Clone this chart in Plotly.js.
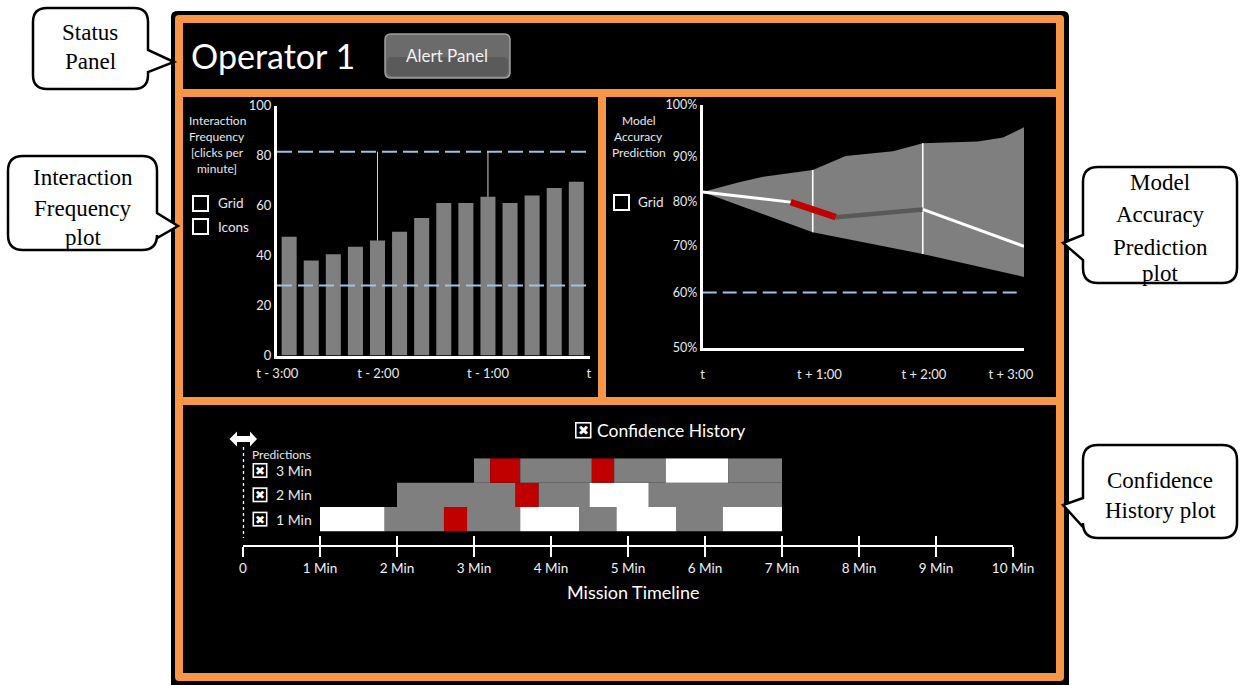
<!DOCTYPE html>
<html><head><meta charset="utf-8">
<script src="https://cdn.plot.ly/plotly-3.0.1.min.js"></script>
<style>html,body{margin:0;padding:0;background:#fff;}#chart{width:1241px;height:685px;}</style>
</head><body><div id="chart"></div>
<script>
// ================= DATA =================
// Interaction Frequency plot (clicks per minute, one bar per interval)
const freqBarIndex = [1,2,3,4,5,6,7,8,9,10,11,12,13,14];
const freqValues   = [47.5, 38, 40.5, 43.5, 46, 49.5, 55, 61, 61, 63.5, 61, 64, 67, 69.5];
const freqUpperThreshold = 81.5;
const freqLowerThreshold = 28;
const freqAlertBars = [5, 10];
const freqTickPos  = [0.46, 5.03, 10.0, 14.57];
const freqTickText = ['t - 3:00', 't - 2:00', 't - 1:00', 't'];
const freqYTicks   = [0, 20, 40, 60, 80, 100];

// Model Accuracy Prediction plot (minutes ahead, accuracy axis units)
const accUpperX = [0, 0.33, 0.55, 1.0, 1.30, 1.73, 2.0, 2.50, 2.73, 2.92];
const accUpperY = [82.1, 84.1, 85.2, 86.6, 89.5, 90.5, 92.1, 92.5, 93.3, 95.4];
const accLowerX = [0, 1.0, 2.0, 2.92];
const accLowerY = [82.1, 73.8, 69.3, 64.6];
const accPredX  = [0, 0.80, 1.21, 2.0, 2.92];
const accPredY  = [82.1, 80.0, 76.9, 78.5, 70.9];
const accPredSegColors = ['#ffffff', '#c00000', '#595959', '#ffffff'];
const accPredSegWidths = [3, 6.5, 4.5, 3];
const accMarkX = [1.0, 2.0];
const accThreshold = 61.4;
const accThresholdEnd = 2.9;
const accYTickVals = [50, 61.4, 71.1, 80.2, 89.3, 100];
const accYTickText = ['50%', '60%', '70%', '80%', '90%', '100%'];
const accXTickVals = [0, 1.06, 2.01, 2.8];
const accXTickText = ['t', 't + 1:00', 't + 2:00', 't + 3:00'];

// Confidence History plot (mission minutes)
const confRowY = [1, 2, 3];
const confRowLabels = ['1 Min', '2 Min', '3 Min'];
const confRow1Bounds = [1.0, 1.84, 2.61, 2.91, 3.60, 4.37, 4.85, 5.63, 6.23, 7.0];
const confRow1States = ['high','mid','low','mid','high','mid','high','mid','high'];
const confRow2Bounds = [2.0, 3.54, 3.84, 4.50, 5.27, 7.0];
const confRow2States = ['mid','low','mid','high','mid'];
const confRow3Bounds = [3.0, 3.21, 3.60, 4.53, 4.82, 5.49, 6.30, 7.0];
const confRow3States = ['mid','low','mid','low','mid','high','mid'];
const confTickVals = [0,1,2,3,4,5,6,7,8,9,10];
const confTickText = ['0','1 Min','2 Min','3 Min','4 Min','5 Min','6 Min','7 Min','8 Min','9 Min','10 Min'];

// ================= STYLE / HELPERS =================
const W = 1241, H = 685;
const X = p => p / W;
const Y = p => 1 - p / H;
const P = (x, y) => X(x).toFixed(5) + ',' + Y(y).toFixed(5);
const ORANGE = '#f79646', GRAY = '#7f7f7f', BLUE = '#9dc3e6', TXT = '#e8e8e8';
const UI = 'Lato, "Open Sans", sans-serif';
const SERIF = '"Liberation Serif", "Times New Roman", serif';
const stateColor = {high: '#ffffff', mid: GRAY, low: '#c00000'};

const shapes = [];
const annotations = [];
function rect(x0, y0, x1, y1, fill, lineColor, lw, layer) {
  shapes.push({type: 'rect', xref: 'paper', yref: 'paper', x0: X(x0), x1: X(x1), y0: Y(y1), y1: Y(y0),
    fillcolor: fill, line: {color: lineColor || fill, width: lw || 0}, layer: layer || 'below'});
}
function path(d, fill, lineColor, lw, layer, dash) {
  shapes.push({type: 'path', xref: 'paper', yref: 'paper', path: d, fillcolor: fill,
    line: {color: lineColor, width: lw, dash: dash || 'solid'}, layer: layer || 'below'});
}
function rrPath(x0, y0, x1, y1, r, tail) {
  let d = `M${P(x0 + r, y0)} L${P(x1 - r, y0)} Q${P(x1, y0)} ${P(x1, y0 + r)}`;
  if (tail && tail.side === 'right') d += ` L${P(x1, tail.a)} L${P(tail.tx, tail.ty)} L${P(x1, tail.b)}`;
  d += ` L${P(x1, y1 - r)} Q${P(x1, y1)} ${P(x1 - r, y1)} L${P(x0 + r, y1)} Q${P(x0, y1)} ${P(x0, y1 - r)}`;
  if (tail && tail.side === 'left') d += ` L${P(x0, tail.b)} L${P(tail.tx, tail.ty)} L${P(x0, tail.a)}`;
  d += ` L${P(x0, y0 + r)} Q${P(x0, y0)} ${P(x0 + r, y0)} Z`;
  return d;
}
function text(x, y, t, size, color, family, xanchor) {
  annotations.push({xref: 'paper', yref: 'paper', x: X(x), y: Y(y), text: t,
    showarrow: false, xanchor: xanchor || 'center', yanchor: 'middle',
    font: {size: size, color: color, family: family || UI}});
}
function uncheckedBox(x0, y0, s) { rect(x0, y0, x0 + s, y0 + s, '#000', '#ffffff', 2, 'above'); }
function checkedBox(x0, y0, s) {
  rect(x0, y0, x0 + s, y0 + s, '#ffffff', '#ffffff', 0, 'above');
  rect(x0 + 1.6, y0 + 1.6, x0 + s - 1.6, y0 + s - 1.6, '#000000', '#000000', 0, 'above');
  annotations.push({xref: 'paper', yref: 'paper', x: X(x0 + s / 2), y: Y(y0 + s / 2 + 0.5), text: '✖',
    showarrow: false, xanchor: 'center', yanchor: 'middle',
    font: {size: s * 0.8, color: '#ffffff', family: '"DejaVu Sans", sans-serif'}});
}

// ---- frame & panels ----
path(rrPath(171, 11, 1069, 690, 6), '#000000', '#000000', 0);
path(rrPath(175, 15, 1064, 681, 4), ORANGE, ORANGE, 0);
rect(183, 23, 1056, 89, '#000');
rect(183, 97, 598, 397, '#000');
rect(606, 97, 1056, 397, '#000');
rect(183, 405, 1056, 673, '#000');

// ---- callouts ----
path(rrPath(33, 8, 148, 89, 14, {side: 'right', a: 50, b: 72, tx: 174, ty: 62}), '#ffffff', '#000000', 2.5, 'above');
path(rrPath(8, 156, 157, 250, 15, {side: 'right', a: 213, b: 238, tx: 178, ty: 226}), '#ffffff', '#000000', 2.5, 'above');
path(rrPath(1083, 167, 1237, 283, 15, {side: 'left', a: 235, b: 260, tx: 1063, ty: 243}), '#ffffff', '#000000', 2.5, 'above');
path(rrPath(1083, 445, 1237, 538, 15, {side: 'left', a: 498, b: 527, tx: 1063, ty: 505}), '#ffffff', '#000000', 2.5, 'above');
text(90, 33, 'Status', 23, '#000', SERIF);
text(90, 62, 'Panel', 23, '#000', SERIF);
text(83, 177, 'Interaction', 23, '#000', SERIF);
text(83, 208, 'Frequency', 23, '#000', SERIF);
text(83, 238, 'plot', 23, '#000', SERIF);
text(1160, 183, 'Model', 23, '#000', SERIF);
text(1160, 215, 'Accuracy', 23, '#000', SERIF);
text(1160, 247, 'Prediction', 23, '#000', SERIF);
text(1160, 273, 'plot', 23, '#000', SERIF);
text(1160, 480, 'Confidence', 23, '#000', SERIF);
text(1160, 510, 'History plot', 23, '#000', SERIF);

// ---- status panel ----
text(189, 55, 'Operator 1', 34, '#ffffff', UI, 'left');
path(rrPath(385, 34, 510, 78, 6), '#6b6b6b', '#a0a0a0', 1.5, 'above');
path(rrPath(387, 57, 508, 76, 5), '#5a5a5a', '#5a5a5a', 0, 'above');
text(447, 55, 'Alert Panel', 17, '#f2f2f2', UI);

// ---- interaction panel extras ----
text(217, 120, 'Interaction', 12, TXT);
text(217, 136, 'Frequency', 12, TXT);
text(217, 152, '[clicks per', 12, TXT);
text(217, 168, 'minute]', 12, TXT);
uncheckedBox(193, 196, 15); text(216, 203.5, 'Grid', 13.5, TXT, UI, 'left');
uncheckedBox(193, 219, 15); text(216, 227, 'Icons', 13.5, TXT, UI, 'left');

// ---- model panel extras ----
text(639, 120, 'Model', 12, TXT);
text(639, 136, 'Accuracy', 12, TXT);
text(639, 152, 'Prediction', 12, TXT);
uncheckedBox(614, 195, 15); text(636, 202, 'Grid', 13.5, TXT, UI, 'left');

// ---- confidence panel extras ----
checkedBox(575, 422, 16.5);
text(595, 430.5, 'Confidence History', 17.5, '#ffffff', UI, 'left');
text(633, 592, 'Mission Timeline', 18, '#ffffff', UI);
text(281, 454, 'Predictions', 12, TXT);
path(`M${P(229.5,439)} L${P(237,431.5)} L${P(237,436)} L${P(250,436)} L${P(250,431.5)} L${P(257,439)} L${P(250,446.5)} L${P(250,442)} L${P(237,442)} L${P(237,446.5)} Z`, '#ffffff', '#ffffff', 0, 'above');
path(`M${P(243.5,447)} L${P(243.5,538)}`, 'rgba(0,0,0,0)', '#ffffff', 1.3, 'above', '3px,3px');

// ================= TRACES =================
const traces = [];
traces.push({type: 'bar', x: freqBarIndex, y: freqValues, width: 0.68, marker: {color: GRAY, line: {width: 0}},
  xaxis: 'x', yaxis: 'y'});
const freqRange = [0.45, 14.62];
[freqUpperThreshold, freqLowerThreshold].forEach(v => traces.push({type: 'scatter', mode: 'lines',
  x: freqRange, y: [v, v], line: {color: BLUE, width: 2, dash: '15px,6px'}, xaxis: 'x', yaxis: 'y'}));
const alX = [], alY = [];
freqAlertBars.forEach(b => { alX.push(b, b, null); alY.push(freqValues[freqBarIndex.indexOf(b)], freqUpperThreshold, null); });
traces.push({type: 'scatter', mode: 'lines', x: alX, y: alY, line: {color: '#d0d0d0', width: 1}, xaxis: 'x', yaxis: 'y'});

traces.push({type: 'scatter', mode: 'lines', fill: 'toself', fillcolor: GRAY, line: {width: 0, color: GRAY},
  x: accUpperX.concat(accLowerX.slice().reverse()), y: accUpperY.concat(accLowerY.slice().reverse()),
  xaxis: 'x2', yaxis: 'y2'});
const mkX = [], mkY = [];
accMarkX.forEach(m => { mkX.push(m, m, null); mkY.push(accLowerY[accLowerX.indexOf(m)], accUpperY[accUpperX.indexOf(m)], null); });
traces.push({type: 'scatter', mode: 'lines', x: mkX, y: mkY, line: {color: '#ffffff', width: 1.6}, xaxis: 'x2', yaxis: 'y2'});
for (let i = 0; i < accPredX.length - 1; i++) {
  traces.push({type: 'scatter', mode: 'lines', x: [accPredX[i], accPredX[i + 1]], y: [accPredY[i], accPredY[i + 1]],
    line: {color: accPredSegColors[i], width: accPredSegWidths[i]}, xaxis: 'x2', yaxis: 'y2'});
}
traces.push({type: 'scatter', mode: 'lines', x: [0, accThresholdEnd], y: [accThreshold, accThreshold],
  line: {color: BLUE, width: 2, dash: '14px,6px'}, xaxis: 'x2', yaxis: 'y2'});

[[confRow1Bounds, confRow1States], [confRow2Bounds, confRow2States], [confRow3Bounds, confRow3States]].forEach((r, k) => {
  const b = r[0], s = r[1];
  const base = [], len = [], col = [], yy = [];
  for (let i = 0; i < s.length; i++) { base.push(b[i]); len.push(b[i + 1] - b[i]); col.push(stateColor[s[i]]); yy.push(confRowY[k]); }
  traces.push({type: 'bar', orientation: 'h', y: yy, x: len, base: base, width: 1,
    marker: {color: col, line: {width: 0}}, xaxis: 'x3', yaxis: 'y3'});
  annotations.push({xref: 'paper', yref: 'y3', x: X(274), y: confRowY[k], text: confRowLabels[k], showarrow: false,
    xanchor: 'left', yanchor: 'middle', font: {size: 14, color: TXT, family: UI}});
});
traces.push({type: 'scatter', mode: 'lines', x: [null], y: [null], xaxis: 'x4', yaxis: 'y3'});

const confY0 = 544.7, confPxPerRow = 24.34, confYMin = -0.05;
confRowY.forEach(v => { const cy = confY0 - (v - confYMin) * confPxPerRow; checkedBox(252.5, cy - 7.5, 15); });

// ================= LAYOUT =================
const tf = (s, c) => ({size: s, color: c || TXT, family: UI});
const baseAx = {showgrid: false, zeroline: false, fixedrange: true};
const layout = {
  width: W, height: H, margin: {l: 0, r: 0, t: 0, b: 0}, paper_bgcolor: '#ffffff', plot_bgcolor: 'rgba(0,0,0,0)',
  showlegend: false, hovermode: false, barmode: 'overlay',
  xaxis: Object.assign({}, baseAx, {domain: [X(277), X(590)], range: freqRange, anchor: 'y',
    showline: true, linecolor: '#ffffff', linewidth: 3, ticks: 'outside', ticklen: 4, tickcolor: 'rgba(0,0,0,0)',
    tickvals: freqTickPos, ticktext: freqTickText, tickfont: tf(13)}),
  yaxis: Object.assign({}, baseAx, {domain: [Y(355.5), Y(105.5)], range: [0, 100], anchor: 'x',
    showline: true, linecolor: '#ffffff', linewidth: 3, ticks: '', tickvals: freqYTicks, tickfont: tf(13)}),
  xaxis2: Object.assign({}, baseAx, {domain: [X(702.7), X(1024)], range: [0, 2.92], anchor: 'y2',
    showline: true, linecolor: '#ffffff', linewidth: 3, ticks: 'outside', ticklen: 13, tickcolor: 'rgba(0,0,0,0)',
    tickvals: accXTickVals, ticktext: accXTickText, tickfont: tf(13)}),
  yaxis2: Object.assign({}, baseAx, {domain: [Y(347.8), Y(105)], range: [50, 100], anchor: 'x2',
    showline: true, linecolor: '#ffffff', linewidth: 3, ticks: '', tickvals: accYTickVals, ticktext: accYTickText, tickfont: tf(12.5)}),
  xaxis3: Object.assign({}, baseAx, {domain: [X(243), X(1013)], range: [0, 10], anchor: 'y3',
    showline: true, linecolor: '#ffffff', linewidth: 2, ticks: 'outside', ticklen: 10, tickwidth: 2, tickcolor: '#ffffff',
    tickvals: confTickVals, ticktext: confTickText, tickfont: tf(13.5, '#f2f2f2')}),
  xaxis4: Object.assign({}, baseAx, {domain: [X(243), X(1013)], range: [0, 10], anchor: 'y3', overlaying: 'x3',
    showline: false, ticks: 'inside', ticklen: 9, tickwidth: 2, tickcolor: '#ffffff', tickvals: confTickVals, showticklabels: false}),
  yaxis3: Object.assign({}, baseAx, {domain: [Y(544.7), Y(458.3)], range: [confYMin, 3.5], anchor: 'x3',
    showline: false, showticklabels: false, ticks: ''}),
  shapes: shapes, annotations: annotations
};
Plotly.newPlot('chart', traces, layout, {displayModeBar: false, staticPlot: true});
</script></body></html>
